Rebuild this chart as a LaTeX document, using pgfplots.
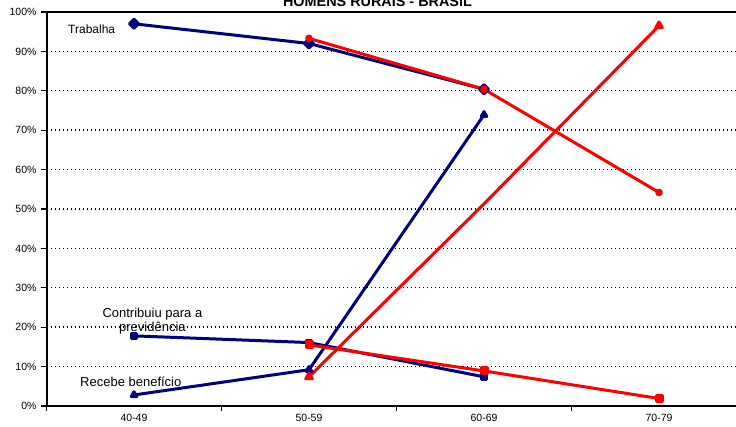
\documentclass[border=0pt]{standalone}
\usepackage{pgfplots}
\pgfplotsset{compat=1.18}
\usepackage{fontspec}
\setmainfont{Liberation Sans}

\definecolor{navy}{RGB}{0,0,128}
\definecolor{vermelho}{RGB}{255,0,0}

% Navy: one cohort; red: the next cohort, shifted one age band
\pgfplotstableread{
x  y
0  97.0
1  92.0
2  80.4
}\trabA
\pgfplotstableread{
x  y
1  93.3
2  80.4
3  54.2
}\trabB
\pgfplotstableread{
x  y
0  17.8
1  16.1
2  7.4
}\contA
\pgfplotstableread{
x  y
1  15.5
2  8.9
3  1.9
}\contB
\pgfplotstableread{
x  y
0  2.8
1  9.2
2  73.9
}\recA
\pgfplotstableread{
x  y
1  7.4
2  51.3
3  96.5
}\recB

\begin{document}
\begin{tikzpicture}[x=1pt,y=1pt]
\useasboundingbox (0,0) rectangle (736,427);
\clip (0,0) rectangle (736,427);
\begin{axis}[
  at={(46.5pt,21pt)}, anchor=south west,
  scale only axis, width=700pt, height=394pt,
  xmin=-0.5, xmax=3.5, ymin=0, ymax=100,
  axis line style={black, line width=2pt},
  xtick={-0.5,0.5,1.5,2.5,3.5},
  xticklabels={40-49,50-59,60-69,70-79},
  x tick label as interval,
  ytick={0,10,...,100},
  yticklabel={\pgfmathprintnumber{\tick}\%},
  /pgf/number format/assume math mode=true,
  tick align=outside, tick pos=left,
  major tick length=5pt,
  tick style={black, line width=1.3pt},
  ticklabel style={font=\fontsize{10.5}{12}\selectfont, text=black},
  yticklabel style={xshift=-1.5pt},
  ymajorgrids,
  major grid style={black, line width=1.4pt, dash pattern=on 1.6pt off 2.4pt},
  every axis plot/.append style={line width=3pt, line join=round},
  clip=false,
]
% navy cohort
\addplot[navy, mark=square*, mark size=3.2pt, mark options={rotate=45, solid}] table {\trabA};
\addplot[navy, mark=square*, mark size=2.5pt] table {\contA};
\addplot[navy, mark=triangle*, mark size=3.2pt] table {\recA};
% red cohort
\addplot[vermelho, mark=*, mark size=2.3pt] table {\trabB};
\addplot[vermelho, mark=square*, mark size=3pt] table {\contB};
\addplot[vermelho, mark=triangle*, mark size=3.8pt, mark indices={1,3}] table {\recB};
\end{axis}

\node[anchor=base, font=\fontsize{14.4}{16}\selectfont\bfseries] at (377.5,420) {HOMENS RURAIS - BRASIL};
\node[anchor=base west, inner sep=0pt, font=\fontsize{12}{14}\selectfont] at (68,393) {Trabalha};
\node[anchor=base, inner sep=0pt, font=\fontsize{13}{15}\selectfont] at (152.4,109) {Contribuiu para a};
\node[anchor=base, inner sep=0pt, font=\fontsize{13}{15}\selectfont] at (152.4,95) {previdência};
\node[anchor=base west, inner sep=0pt, font=\fontsize{13}{15}\selectfont] at (80,40) {Recebe benefício};
\end{tikzpicture}
\end{document}
